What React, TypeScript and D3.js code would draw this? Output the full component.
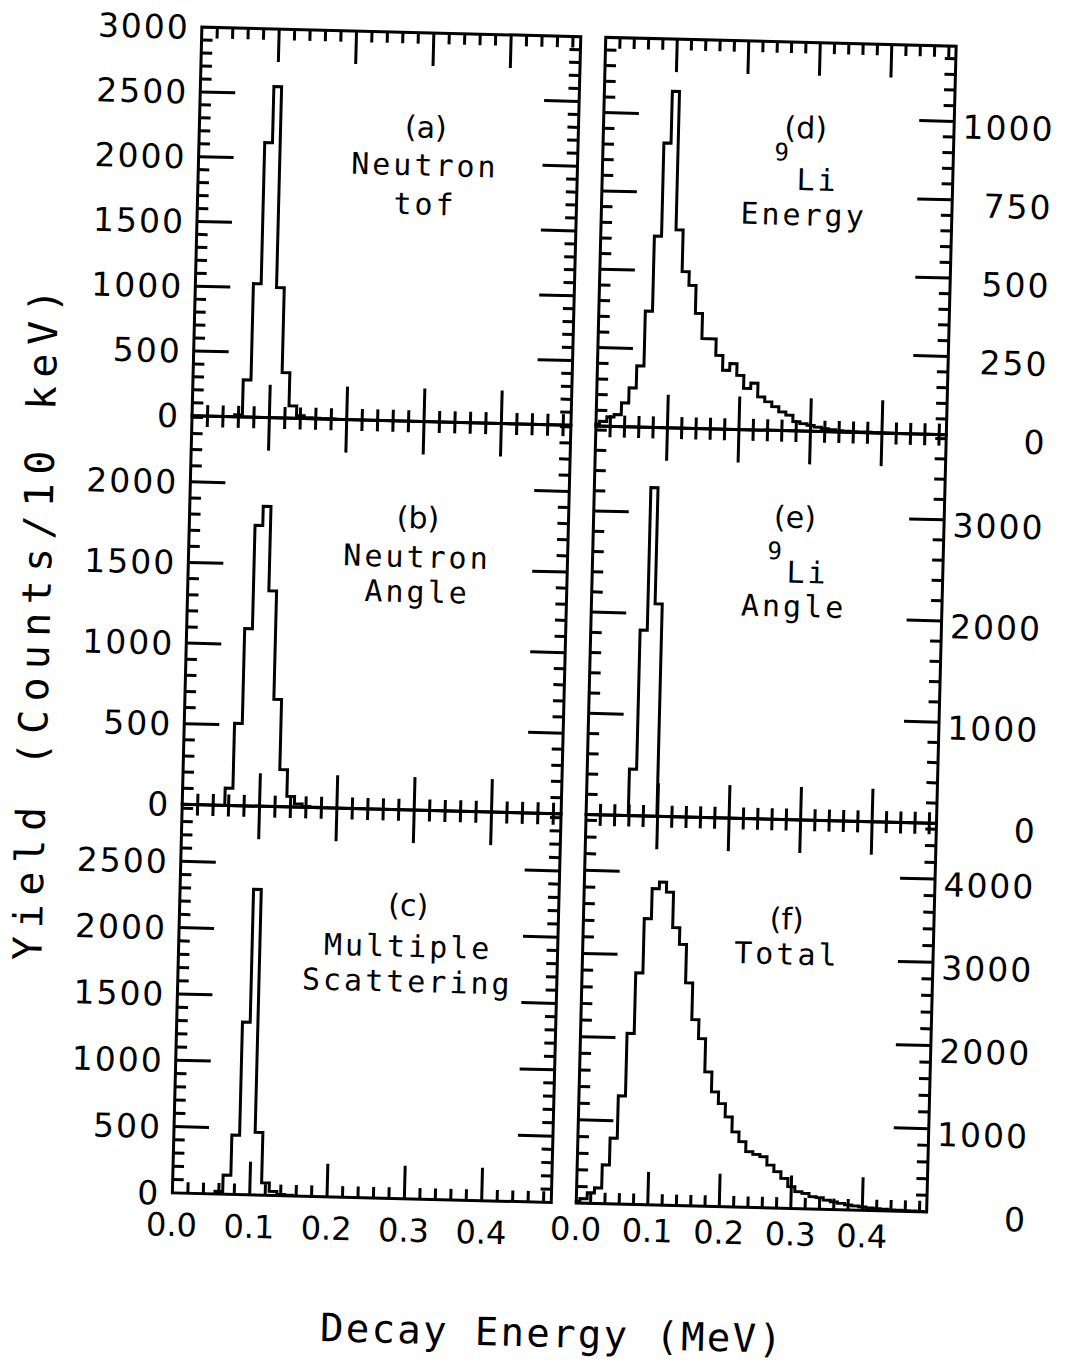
import React from 'react';
import * as d3 from 'd3';

// ---------- data ----------
const X_MAX = 0.49;
const BIN_WIDTH = 0.01;
const xTickLabels = ['0.0', '0.1', '0.2', '0.3', '0.4'];
const xTickValues = [0, 0.1, 0.2, 0.3, 0.4];

// (a) Neutron tof
const aStart = 0.055;
const aCounts = [15, 287, 1031, 2121, 2556, 1005, 351, 95, 22, 8, 5, 3, 2, 1, 1];
const aTickLabels = [0, 500, 1000, 1500, 2000, 2500, 3000];

// (b) Neutron Angle
const bStart = 0.055;
const bCounts = [107, 510, 1099, 1740, 1860, 1337, 665, 231, 66, 20, 6, 3];
const bTickLabels = [0, 500, 1000, 1500, 2000];

// (c) Multiple Scattering
const cStart = 0.055;
const cCounts = [20, 144, 447, 1300, 2303, 472, 93, 30, 10, 5];
const cTickLabels = [0, 500, 1000, 1500, 2000, 2500];

// (d) 9Li Energy
const dStart = -0.005;
const dCounts = [
  6, 15, 30, 38, 76, 124, 195, 370, 610, 908, 1073, 632, 499, 456, 367, 287, 287, 235, 188, 210,
  173, 132, 149, 106, 91, 76, 60, 50, 30, 24, 19, 14, 10, 7, 5, 4, 3, 2, 2, 1, 1, 1,
];
const dTickLabels = [0, 250, 500, 750, 1000];

// (e) 9Li Angle
const eStart = 0.059;
const eCounts = [459, 1836, 3246, 2098];
const eTickLabels = [0, 1000, 2000, 3000];

// (f) Total
const fStart = -0.005;
const fCounts = [
  20, 56, 128, 188, 467, 790, 1300, 2054, 2784, 3438, 3800, 3882, 3764, 3338, 3140, 2678, 2240,
  2014, 1616, 1378, 1240, 1082, 904, 788, 670, 640, 614, 516, 438, 360, 262, 204, 186, 148, 138,
  112, 94, 78, 62, 50, 40, 32, 26, 20, 15, 12, 10, 8, 5,
];
const fTickLabels = [0, 1000, 2000, 3000, 4000];

// ---------- layout ----------
const W = 1069;
const H = 1362;
const COLS = [
  { x0: 187, x1: 566, xLabelGap: 43 },
  { x0: 591, x1: 941.5, xLabelGap: 37 },
];
const TOP = 36.5;
const PH = 388.7;
const SKEW = 1.45;
const MONO = "'DejaVu Sans Mono', monospace";
const SANS = "'DejaVu Sans', sans-serif";

type Line = { t: string; dx: number; dy: number; size?: number; sans?: boolean };
type Panel = {
  col: number;
  row: number;
  yMax: number;
  major: number;
  minor: number;
  tickLabels: number[];
  start: number;
  counts: number[];
  text: Line[];
};

const panels: Panel[] = [
  {
    col: 0, row: 0, yMax: 3000, major: 500, minor: 100, tickLabels: aTickLabels,
    start: aStart, counts: aCounts,
    text: [
      { t: '(a)', dx: 37, dy: 94, sans: true },
      { t: 'Neutron', dx: 37, dy: 132 },
      { t: 'tof', dx: 38, dy: 171 },
    ],
  },
  {
    col: 0, row: 1, yMax: 2410, major: 500, minor: 100, tickLabels: bTickLabels,
    start: bStart, counts: bCounts,
    text: [
      { t: '(b)', dx: 39, dy: 96, sans: true },
      { t: 'Neutron', dx: 39, dy: 135 },
      { t: 'Angle', dx: 40, dy: 170 },
    ],
  },
  {
    col: 0, row: 2, yMax: 2930, major: 500, minor: 100, tickLabels: cTickLabels,
    start: cStart, counts: cCounts,
    text: [
      { t: '(c)', dx: 39, dy: 95, sans: true },
      { t: 'Multiple', dx: 40, dy: 136 },
      { t: 'Scattering', dx: 40, dy: 171 },
    ],
  },
  {
    col: 1, row: 0, yMax: 1240, major: 250, minor: 50, tickLabels: dTickLabels,
    start: dStart, counts: dCounts,
    text: [
      { t: '(d)', dx: 27, dy: 85, sans: true },
      { t: '9', dx: 5, dy: 110, size: 24 },
      { t: 'Li', dx: 40, dy: 137 },
      { t: 'Energy', dx: 27, dy: 172 },
    ],
  },
  {
    col: 1, row: 1, yMax: 3840, major: 1000, minor: 200, tickLabels: eTickLabels,
    start: eStart, counts: eCounts,
    text: [
      { t: '(e)', dx: 26, dy: 86, sans: true },
      { t: '9', dx: 8, dy: 120, size: 24 },
      { t: 'Li', dx: 40, dy: 141 },
      { t: 'Angle', dx: 27, dy: 175 },
    ],
  },
  {
    col: 1, row: 2, yMax: 4670, major: 1000, minor: 200, tickLabels: fTickLabels,
    start: fStart, counts: fCounts,
    text: [
      { t: '(f)', dx: 28, dy: 99, sans: true },
      { t: 'Total', dx: 29, dy: 134 },
    ],
  },
];

const SW = 3;

function PanelView({ p }: { p: Panel }) {
  const { x0, x1, xLabelGap } = COLS[p.col];
  const top = TOP + p.row * PH;
  const bottom = top + PH;
  const x = d3.scaleLinear().domain([0, X_MAX]).range([x0, x1]);
  const y = d3.scaleLinear().domain([0, p.yMax]).range([bottom, top]);

  // histogram outline
  const pts: [number, number][] = [];
  const clampX = (v: number) => Math.max(0, Math.min(X_MAX, v));
  pts.push([x(clampX(p.start)), y(0)]);
  p.counts.forEach((c, i) => {
    const e0 = clampX(p.start + i * BIN_WIDTH);
    const e1 = clampX(p.start + (i + 1) * BIN_WIDTH);
    pts.push([x(e0), y(c)]);
    pts.push([x(e1), y(c)]);
  });
  pts.push([x(clampX(p.start + p.counts.length * BIN_WIDTH)), y(0)]);
  const path = d3.line()(pts) || '';

  const xTicks = d3.range(0.02, X_MAX, 0.02);
  const yTicks = d3.range(p.minor, p.yMax, p.minor);
  const isMajX = (t: number) => Math.abs(t * 10 - Math.round(t * 10)) < 1e-6;
  const isMajY = (v: number) => Math.abs(v / p.major - Math.round(v / p.major)) < 1e-6;

  const cx = (x0 + x1) / 2;
  const XL_MAJ = 33, XL_MIN = 11, YL_MAJ = 35, YL_MIN = 11;

  return (
    <g>
      <rect x={x0} y={top} width={x1 - x0} height={PH} fill="none" stroke="#000" strokeWidth={SW} />
      {xTicks.map((t, i) => {
        const L = isMajX(t) ? XL_MAJ : XL_MIN;
        return (
          <g key={'xt' + i}>
            <line x1={x(t)} x2={x(t)} y1={top} y2={top + L} stroke="#000" strokeWidth={SW} />
            <line x1={x(t)} x2={x(t)} y1={bottom} y2={bottom - L} stroke="#000" strokeWidth={SW} />
          </g>
        );
      })}
      {yTicks.map((v, i) => {
        const L = isMajY(v) ? YL_MAJ : YL_MIN;
        return (
          <g key={'yt' + i}>
            <line x1={x0} x2={x0 + L} y1={y(v)} y2={y(v)} stroke="#000" strokeWidth={SW} />
            <line x1={x1} x2={x1 - L} y1={y(v)} y2={y(v)} stroke="#000" strokeWidth={SW} />
          </g>
        );
      })}
      <path d={path} fill="none" stroke="#000" strokeWidth={SW} strokeLinejoin="miter" />
      {p.tickLabels.map((v, i) =>
        p.col === 0 ? (
          <text key={'yl' + i} x={x0 - 12} y={y(v) + 12} textAnchor="end" fontFamily={SANS} fontSize={33} letterSpacing={2}>
            {v}
          </text>
        ) : (
          <text key={'yl' + i} x={1042} y={y(v) + 17} textAnchor="end" fontFamily={SANS} fontSize={33} letterSpacing={2}>
            {v}
          </text>
        )
      )}
      {p.row === 2 &&
        xTickValues.map((t, i) => (
          <text key={'xl' + i} x={x(t)} y={bottom + xLabelGap} textAnchor="middle" fontFamily={SANS} fontSize={32}>
            {xTickLabels[i]}
          </text>
        ))}
      {p.text.map((l, i) => {
        const fs = l.size || 30;
        return (
          <text
            key={'tx' + i}
            x={cx + l.dx}
            y={top + l.dy + 0.36 * fs}
            textAnchor="middle"
            fontFamily={l.sans ? SANS : MONO}
            fontSize={fs}
            letterSpacing={l.sans ? 0 : 3}
          >
            {l.t}
          </text>
        );
      })}
    </g>
  );
}

export default function App() {
  return (
    <svg width={W} height={H} viewBox={`0 0 ${W} ${H}`} style={{ position: 'absolute', left: 0, top: 0, background: '#fff' }}>
      <rect x={0} y={0} width={W} height={H} fill="#fff" />
      <g transform={`rotate(${SKEW}, 565, 620)`}>
        {panels.map((p, i) => (
          <PanelView key={i} p={p} />
        ))}
        <text x={50} y={638} transform="rotate(-90, 50, 638)" textAnchor="middle" fontFamily={MONO} fontSize={40} textLength={672} lengthAdjust="spacing">
          Yield (Counts/10 keV)
        </text>
        <text x={569} y={1347} textAnchor="middle" fontFamily={MONO} fontSize={39} textLength={462} lengthAdjust="spacing">
          Decay Energy (MeV)
        </text>
      </g>
    </svg>
  );
}
